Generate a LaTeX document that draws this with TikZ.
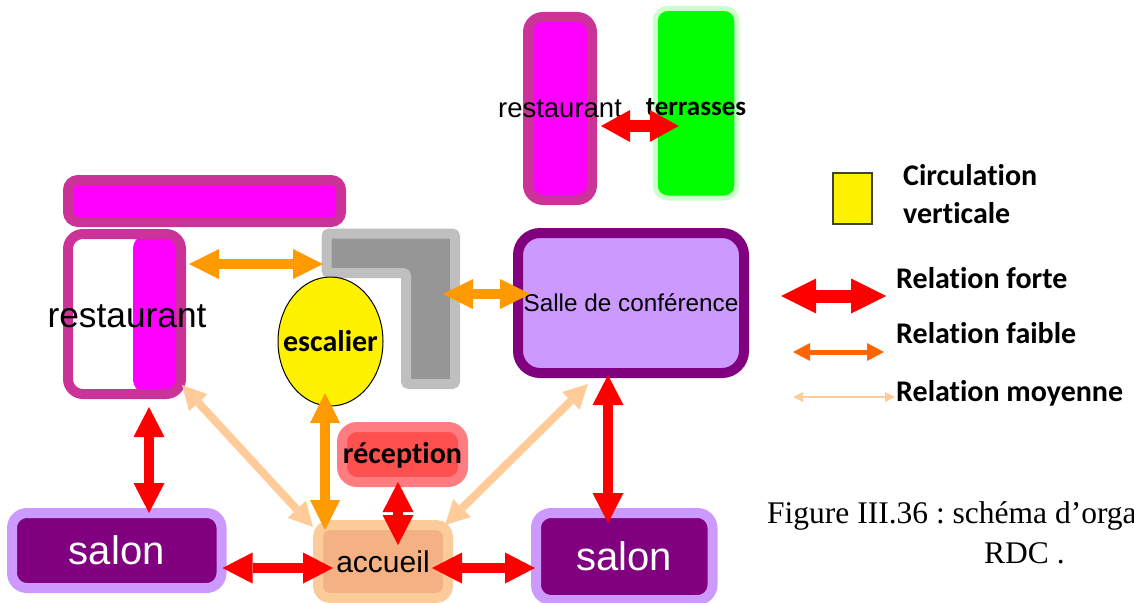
\documentclass[tikz,border=0pt]{standalone}
\usepackage{fontspec}
\setmainfont{Liberation Serif}
\newfontfamily\arialfont{Liberation Sans}
\newfontfamily\calfont[Ligatures=NoCommon]{Carlito}
\usetikzlibrary{arrows.meta,shapes.geometric}
\frenchspacing

\definecolor{magborder}{HTML}{CC3399}
\definecolor{magfill}{HTML}{FF00FF}
\definecolor{greyout}{HTML}{BFBFBF}
\definecolor{greyin}{HTML}{969696}
\definecolor{confborder}{HTML}{800080}
\definecolor{conffill}{HTML}{CC99FF}
\definecolor{recout}{HTML}{FF7C80}
\definecolor{recin}{HTML}{FF5050}
\definecolor{accout}{HTML}{FBCB9A}
\definecolor{accin}{HTML}{F4B183}
\definecolor{terout}{HTML}{CCFFCC}
\definecolor{terin}{HTML}{00FF00}
\definecolor{arrorange}{HTML}{FF9900}
\definecolor{arrpeach}{HTML}{FFCC99}
\definecolor{legorange}{HTML}{FF6600}

\begin{document}
\begin{tikzpicture}[
  x=1pt, y=-1pt,
  room/.style={draw, line width=10pt, rounded corners=15pt, inner sep=0pt},
  lbl/.style={font=\arialfont\fontsize{#1}{#1}\selectfont, inner sep=0pt},
  boldtxt/.style={font=\calfont\bfseries\fontsize{#1}{#1}\selectfont, inner sep=0pt},
  forte/.style={red, line width=10pt, {Triangle[length=30pt,width=31pt,line width=0pt]}-{Triangle[length=30pt,width=31pt,line width=0pt]}},
  fortetop/.style={red, line width=12pt, {Triangle[length=29pt,width=32pt,line width=0pt]}-{Triangle[length=29pt,width=32pt,line width=0pt]}},
  faible/.style={arrorange, line width=10pt, {Triangle[length=30pt,width=30pt,line width=0pt]}-{Triangle[length=30pt,width=30pt,line width=0pt]}},
  moyenne/.style={arrpeach, line width=8pt, {Triangle[length=24pt,width=25pt,line width=0pt]}-{Triangle[length=24pt,width=25pt,line width=0pt]}},
  legforte/.style={red, line width=13pt, {Triangle[length=35pt,width=35pt,line width=0pt]}-{Triangle[length=35pt,width=35pt,line width=0pt]}},
  legfaible/.style={legorange, line width=5pt, {Triangle[length=17pt,width=18pt,line width=0pt]}-{Triangle[length=17pt,width=18pt,line width=0pt]}},
  legmoyenne/.style={arrpeach, line width=2pt, {Triangle[length=10pt,width=10pt,line width=0pt]}-{Triangle[length=10pt,width=10pt,line width=0pt]}}
]
\useasboundingbox (0,0) rectangle (1134,602);
\clip (0,0) rectangle (1134,602);

\node[room, draw=magborder, fill=magfill, rounded corners=10pt, minimum width=273pt, minimum height=42pt] (bar) at (204.5,201) {};
\node[room, draw=magborder, fill=white, minimum width=113pt, minimum height=160pt,
  path picture={\fill[magfill] ([xshift=-48pt]path picture bounding box.north east) rectangle (path picture bounding box.south east);},
  label={[lbl=35.3, xshift=2.5pt, yshift=-2pt]center:restaurant}] (rest) at (124.5,314) {};
\node[room, draw=magborder, fill=magfill, minimum width=64pt, minimum height=183pt,
  label={[lbl=27.5]center:restaurant}] (rtop) at (560,108.5) {};
\node[room, draw=terout, fill=terin, line width=5pt, rounded corners=12pt, minimum width=81.5pt, minimum height=189.5pt,
  label={[boldtxt=27, yshift=-4pt]center:terrasses}] (terr) at (696,103.25) {};

\draw[draw=greyout, fill=greyin, line width=10pt, rounded corners=3pt] (326.5,233.5) -- (455,233.5) -- (455,384) -- (406,384) -- (406,273) -- (326.5,273) -- cycle;
\coordinate (palierW) at (323,264);
\coordinate (palierE) at (443,294);

\node[room, draw=confborder, fill=conffill, rounded corners=22pt, minimum width=226pt, minimum height=140pt, lbl=24.3] (salle) at (631,303) {Salle de conférence};
\node[ellipse, draw, line width=1pt, fill=yellow, minimum width=105pt, minimum height=129pt, inner sep=0pt,
  label={[boldtxt=30]center:escalier}] (esc) at (330.5,341.5) {};
\node[room, draw=recout, fill=recin, minimum width=121pt, minimum height=55pt,
  label={[boldtxt=30, yshift=-1pt]center:réception}] (recep) at (402.5,454.5) {};
\node[room, draw=accout, fill=accin, rounded corners=12pt, minimum width=130pt, minimum height=73pt, lbl=30] (accueil) at (383,561.5) {accueil};
\node[room, draw=conffill, fill=confborder, text=white, minimum width=209.5pt, minimum height=75pt, lbl=40] (salonL) at (116.75,550.5) {salon};
\node[room, draw=conffill, fill=confborder, text=white, minimum width=176.5pt, minimum height=87pt, lbl=40] (salonR) at (624.25,556.5) {salon};

\draw[fortetop] ([xshift=4pt,yshift=-17.5pt]rtop.east) -- ([xshift=26pt,yshift=-22.75pt]terr.west);
\draw[forte] ([xshift=24.5pt,yshift=-8pt]rest.south) -- ([xshift=32.25pt,yshift=-5pt]salonL.north);
\draw[moyenne] ([xshift=-4pt,yshift=14pt]rest.south east) -- ([yshift=-7pt]accueil.north west);
\draw[faible] ([xshift=3pt,yshift=50pt]rest.east) -- (palierW);
\draw[faible] (palierE) -- ([xshift=17pt,yshift=9pt]salle.west);
\draw[faible] ([xshift=-5.5pt,yshift=13.5pt]esc.south) -- ([xshift=-58pt,yshift=-10pt]accueil.north);
\draw[forte] ([xshift=-4.5pt,yshift=5pt]recep.south) -- ([xshift=15pt,yshift=-25pt]accueil.north);
\draw[moyenne] ([xshift=-43pt,yshift=-6pt]salle.south) -- ([xshift=-8pt,yshift=-5pt]accueil.north east);
\draw[forte] ([xshift=-23pt,yshift=3pt]salle.south) -- ([xshift=-16.25pt,yshift=-15pt]salonR.north);
\draw[forte] ([xshift=-4pt,yshift=-17.5pt]salonL.east) -- ([xshift=20pt,yshift=-6.5pt]accueil.west);
\draw[forte] ([xshift=-21pt,yshift=-6.5pt]accueil.east) -- ([xshift=4pt,yshift=-11.5pt]salonR.west);

\node[draw=black!75, line width=1.5pt, fill=yellow, minimum width=39pt, minimum height=51pt, inner sep=0pt] (legcirc) at (852.5,198.5) {};
\node[boldtxt=30, anchor=base west] (legcirc1) at (903,185) {Circulation};
\node[boldtxt=30, anchor=base west] (legcirc2) at (903,223) {verticale};
\coordinate (lfo1) at (781,296);
\coordinate (lfo2) at (886,296);
\coordinate (lfa1) at (793,352);
\coordinate (lfa2) at (884,352);
\coordinate (lmo1) at (793,397);
\coordinate (lmo2) at (895,397);
\draw[legforte] (lfo1) -- (lfo2);
\draw[legfaible] (lfa1) -- (lfa2);
\draw[legmoyenne] (lmo1) -- (lmo2);
\node[boldtxt=30, anchor=base west] (legforte) at (896,288) {Relation forte};
\node[boldtxt=30, anchor=base west] (legfaible) at (896,343) {Relation faible};
\node[boldtxt=30, anchor=base west] (legmoyenne) at (896,401) {Relation moyenne};

\node[anchor=base west, inner sep=0pt, font=\fontsize{31.5}{40}\selectfont] (capt1) at (767,523) {Figure III.36 : schéma d’orga};
\node[anchor=base west, inner sep=0pt, font=\fontsize{31.5}{40}\selectfont] (capt2) at (984,563) {RDC .};
\end{tikzpicture}
\end{document}
